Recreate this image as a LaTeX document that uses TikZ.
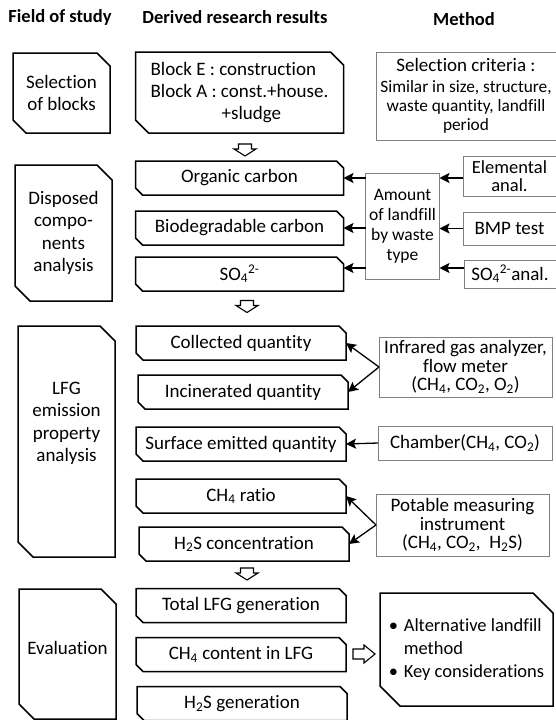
\documentclass[tikz,border=0pt]{standalone}
\usepackage{fontspec}
\setmainfont{Carlito}[Ligatures=NoCommon]
\usetikzlibrary{arrows.meta,positioning}
\tikzstyle{field box}=[rectangle, minimum width=97pt, align=center, inner sep=0pt, outer sep=0pt]
\tikzstyle{result box}=[rectangle, minimum width=208pt, minimum height=34pt, align=center, inner sep=0pt, outer sep=0pt]
\tikzstyle{method box}=[rectangle, draw=black!50, line width=1pt, align=center, inner sep=0pt, outer sep=0pt]
\tikzstyle{head}=[font=\bfseries\fontsize{18.5}{22}\selectfont]
\tikzstyle{tight text}=[font=\fontsize{19}{18.3}\selectfont]
\tikzstyle{snip}=[line width=1.5pt, line join=miter]
\tikzstyle{conn}=[-{Stealth[length=10pt,width=10pt,inset=2pt]}, line width=1.3pt]
\tikzstyle{hollow}=[draw, line width=1.1pt, fill=white, line join=miter]

\begin{document}
\begin{tikzpicture}[x=1pt, y=-1pt, font=\fontsize{19}{22.3}\selectfont]
\useasboundingbox (0,0) rectangle (555,720);
% column heads
  \node[head] (fieldhead) at (60,17) {Field of study};
  \node[head] (resulthead) at (235,17) {Derived research results};
  \node[head] (methodhead) at (464,19) {Method};
% field of study
  \node[field box, minimum height=80pt] (selection) at (61.5,93) {Selection\\of blocks};
  \node[field box, minimum height=136pt] (disposed) at (63.5,233) {Disposed\\compo-\\nents\\analysis};
  \node[field box, minimum height=231pt] (lfg) at (66.5,441.5) {};
  \node[align=center] (lfgtext) at ([yshift=18pt]lfg.center) {LFG\\emission\\property\\analysis};
  \node[field box, minimum height=130pt] (evaluation) at (67.5,654) {};
  \node (evaltext) at ([yshift=6pt]evaluation.center) {Evaluation};
% derived research results
  \node[result box, minimum height=81pt, align=left] (blocks) at (239.5,92.5) {Block E : construction\\Block A : const.+house.\\\hspace*{71pt}+sludge};
  \node[result box] (organic) at (239.5,178) {Organic carbon};
  \node[result box, below=16pt of organic] (biodeg) {Biodegradable carbon};
  \node[result box, below=12pt of biodeg] (sulfate) {SO\textsubscript{4}\textsuperscript{2-}};
  \node[result box, minimum width=210pt] (collected) at (241,343) {Collected quantity};
  \node[result box, minimum width=210pt, below=15pt of collected, xshift=2pt] (incinerated) {Incinerated quantity};
  \node[result box, minimum width=210pt] (surface) at (241,444) {Surface emitted quantity};
  \node[result box, minimum width=210pt, below=18pt of surface] (methratio) {CH\textsubscript{4} ratio};
  \node[result box, minimum width=210pt, below=14pt of methratio, xshift=3pt] (sulfideconc) {H\textsubscript{2}S concentration};
  \node[result box, minimum width=210pt] (totallfg) at (241,605.5) {Total LFG generation};
  \node[result box, minimum width=210pt, below=15pt of totallfg] (methcontent) {CH\textsubscript{4} content in LFG};
  \node[result box, minimum width=210pt, below=15pt of methcontent, xshift=1pt] (sulfidegen) {H\textsubscript{2}S generation};
% method
  \node[method box, minimum width=180pt, minimum height=88pt, font=\fontsize{17.3}{19.3}\selectfont] (criteria) at (466,96)
    {{\fontsize{19}{22}\selectfont Selection criteria :}\\[1pt]Similar in size, structure,\\waste quantity, landfill\\period};
  \node[method box, minimum width=74pt, minimum height=106pt, font=\fontsize{17.5}{20}\selectfont] (amount) at (402.5,226) {Amount\\of landfill\\by waste\\type};
  \node[method box, minimum width=93pt, minimum height=40pt, font=\fontsize{18.5}{17.5}\selectfont] (elemental) at (509.5,176) {Elemental\\anal.};
  \node[method box, minimum width=93pt, minimum height=33pt] (bmp) at (509.5,228.5) {BMP test};
  \node[method box, minimum width=92pt, minimum height=28pt] (sulfateanal) at (510,274) {SO\textsubscript{4}\textsuperscript{2-}anal.};
  \node[method box, tight text, minimum width=173pt, minimum height=60pt] (infrared) at (465.5,367) {Infrared gas analyzer,\\flow meter\\(CH\textsubscript{4}, CO\textsubscript{2}, O\textsubscript{2})};
  \node[method box, minimum width=174pt, minimum height=34pt] (chamber) at (465,443) {Chamber(CH\textsubscript{4}, CO\textsubscript{2})};
  \node[method box, tight text, minimum width=173pt, minimum height=62pt] (potable) at (462.5,525) {Potable measuring\\instrument\\(CH\textsubscript{4}, CO\textsubscript{2},\ \ H\textsubscript{2}S)};
  \node[rectangle, minimum width=173pt, minimum height=113pt, align=left, inner sep=0pt, outer sep=0pt, font=\fontsize{18.5}{23}\selectfont] (alternative) at (466.5,649.5)
    {\makebox[15pt][l]{\textbullet}Alternative landfill\\\hspace*{15pt}method\\\makebox[15pt][l]{\textbullet}Key considerations};
% snipped outlines
  \foreach \n/\c in {selection/13,disposed/15,lfg/15,evaluation/15,blocks/13,organic/7,biodeg/7,sulfate/7,
      collected/7,incinerated/7,surface/7,methratio/7,sulfideconc/7,totallfg/7,methcontent/7,sulfidegen/7,alternative/20}
    \draw[snip] (\n.north west) -- ([xshift=-\c pt]\n.north east) -- ([yshift=-\c pt]\n.north east)
      -- (\n.south east) -- ([xshift=\c pt]\n.south west) -- ([yshift=\c pt]\n.south west) -- cycle;
% hollow arrows
  \foreach \x/\y in {245/144, 247/300.5, 247/568}
    \draw[hollow] (\x,\y) ++(-6.5,0) -- ++(13,0) -- ++(0,5) -- ++(4.5,0) -- ++(-11,7) -- ++(-11,-7) -- ++(4.5,0) -- cycle;
  \draw[hollow] (353,649) -- ++(11,0) -- ++(0,-4) -- ++(11,9) -- ++(-11,9) -- ++(0,-4) -- ++(-11,0) -- cycle;
% connectors
  \coordinate (sulfatetip) at ([yshift=6pt]sulfate.east);
  \draw[conn] (amount.west |- organic.east) -- (organic.east);
  \draw[conn] (amount.west |- biodeg.east) -- (biodeg.east);
  \draw[conn] (amount.west |- sulfatetip) -- (sulfatetip);
  \draw[conn] (elemental.west |- organic.east) -- (amount.east |- organic.east);
  \draw[conn] (bmp.west) -- (amount.east |- bmp.west);
  \draw[conn] (sulfateanal.west |- sulfatetip) -- (amount.east |- sulfatetip);
  \draw[conn] (infrared.west) -- (collected.east);
  \draw[conn] (infrared.west) -- (incinerated.east);
  \draw[conn] (chamber.west) -- (surface.east);
  \draw[conn] (potable.west) -- (methratio.east);
  \draw[conn] (potable.west) -- (sulfideconc.east);
\end{tikzpicture}
\end{document}
